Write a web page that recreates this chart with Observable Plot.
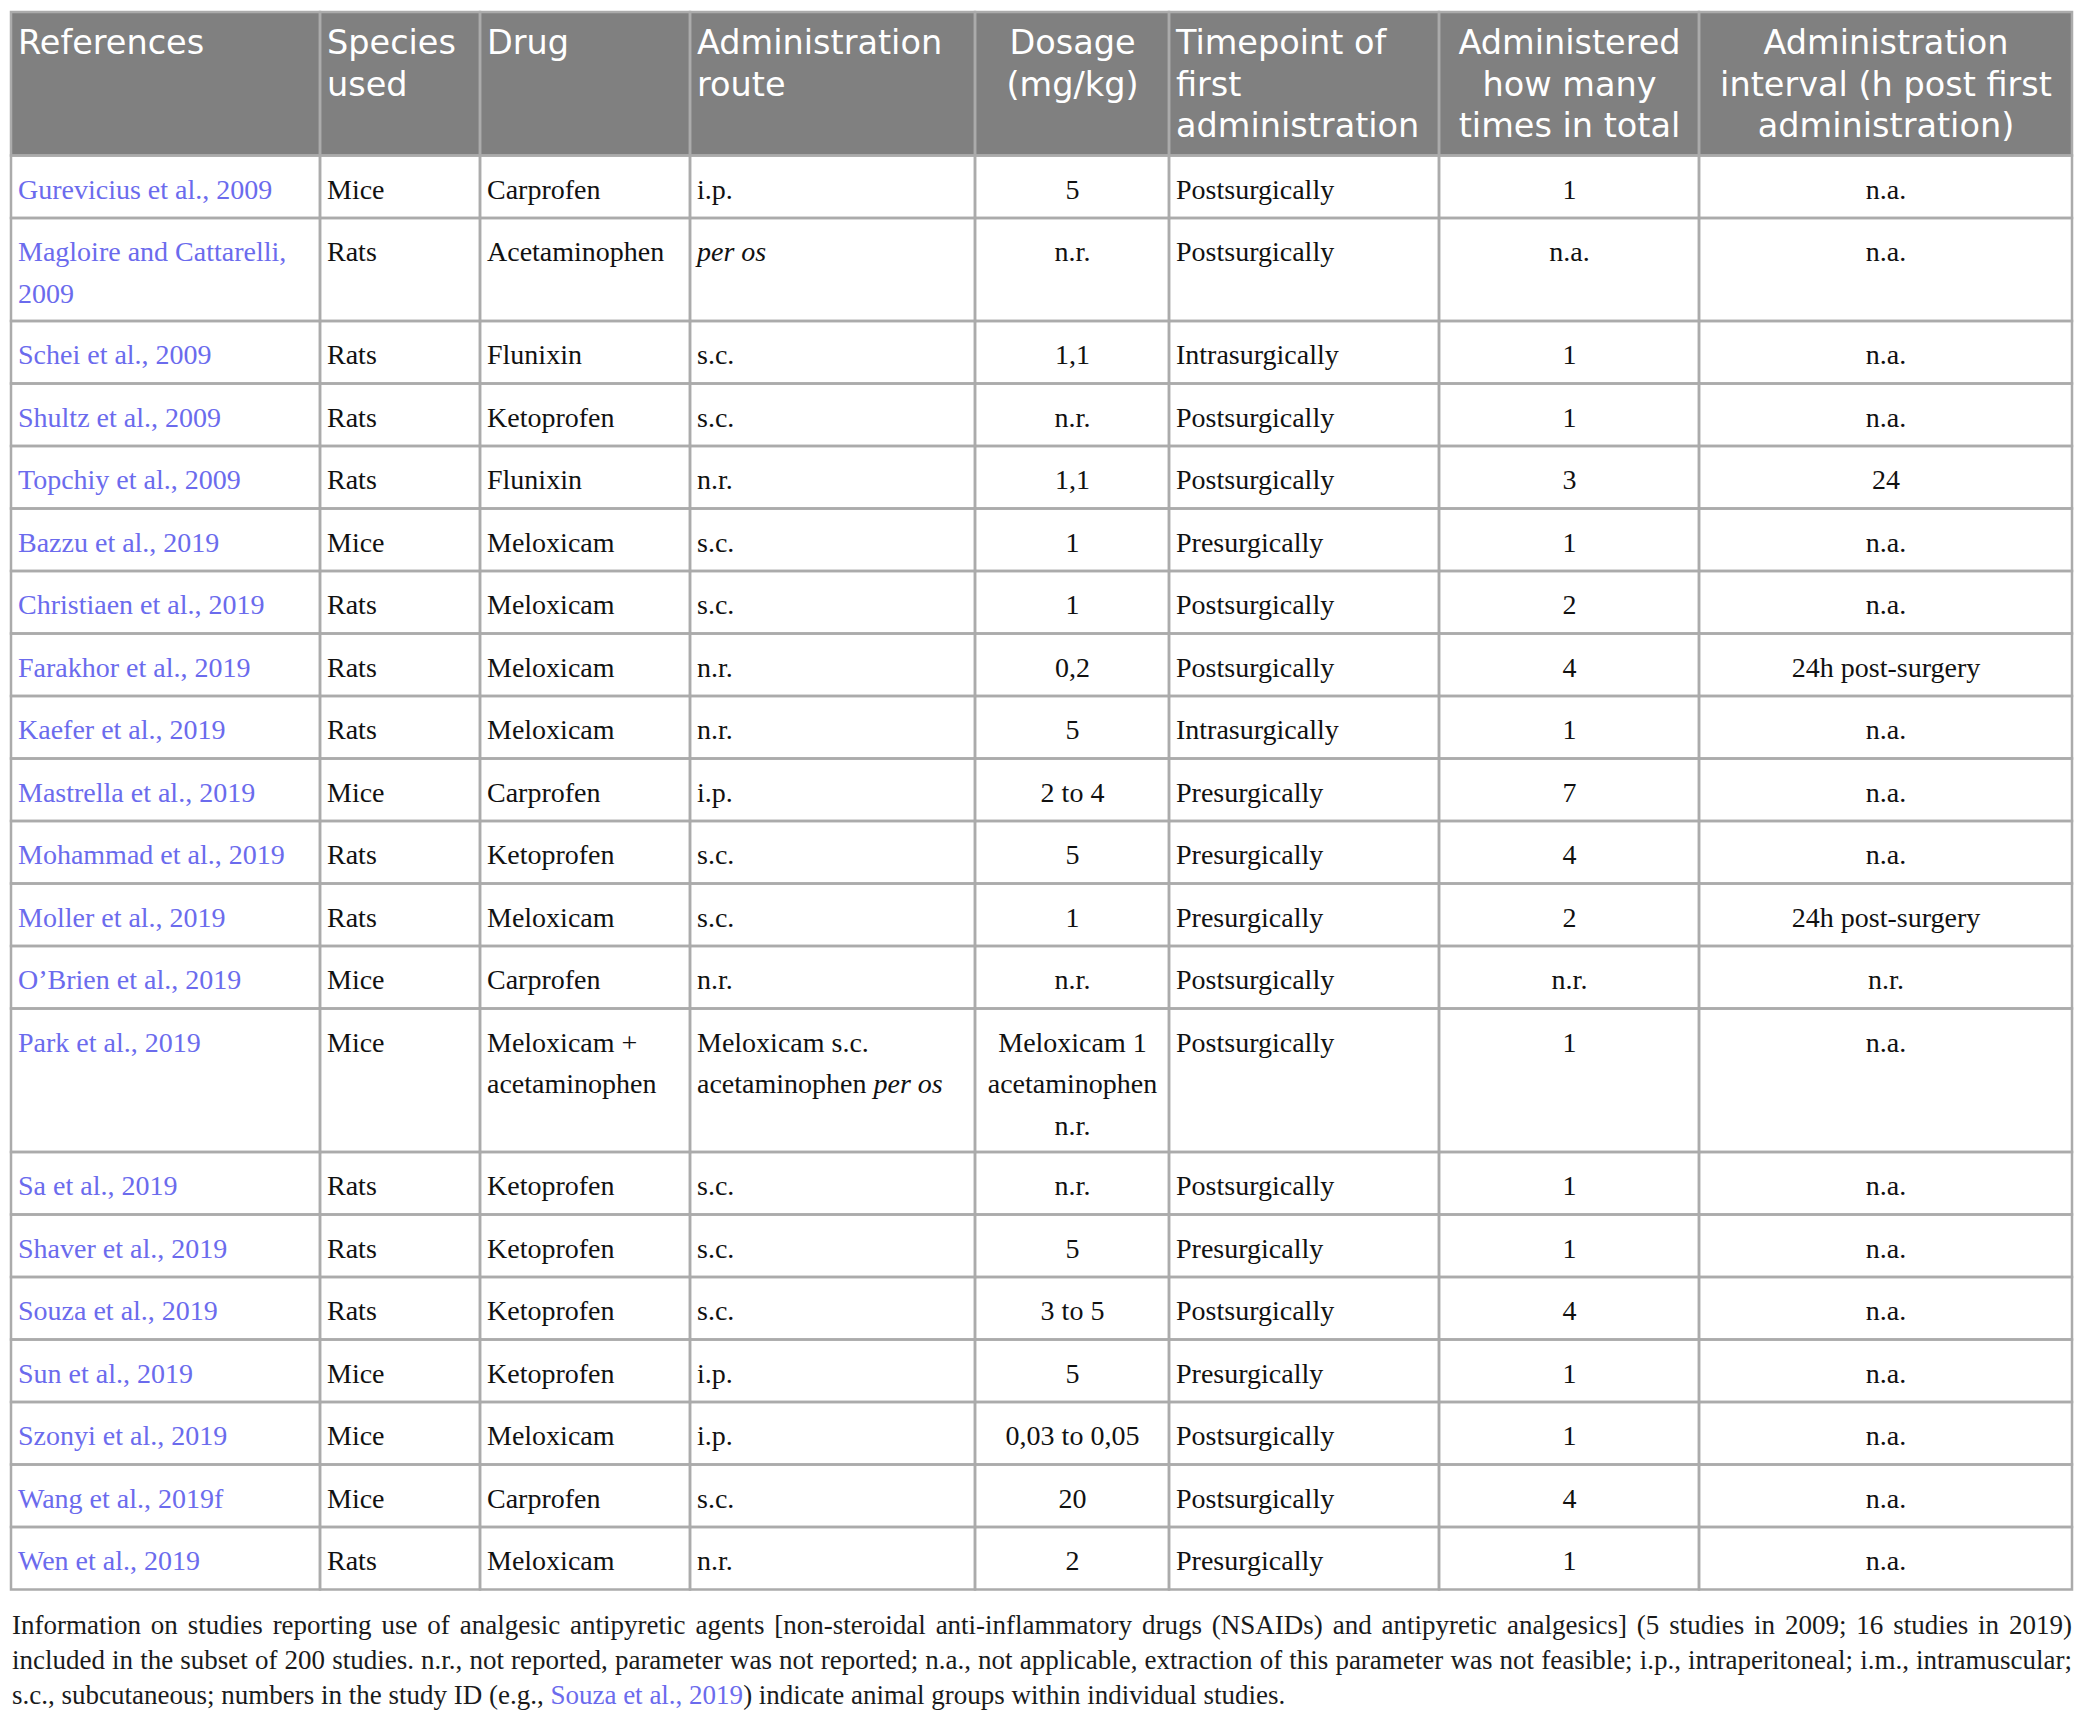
<!DOCTYPE html>
<html><head><meta charset="utf-8">
<script src="https://cdn.jsdelivr.net/npm/d3@7"></script>
<script src="https://cdn.jsdelivr.net/npm/@observablehq/plot@0.6"></script>
<style>
body{margin:0;background:#fff;}
#chart svg{display:block;}
#caption{margin:10px 0 0 12px; width:2060px; font-family:"Liberation Serif",serif; font-size:27px; line-height:35px; color:#1a1a1a;}
#caption div{white-space:nowrap;}
#caption span.line{display:inline-block;}
#caption .ref{color:#6b6bed;}
</style></head><body>
<div id="chart"></div>
<div id="caption"></div>
<script>
// ---------- data ----------
const headers = ["References","Species\nused","Drug","Administration\nroute","Dosage\n(mg/kg)","Timepoint of\nfirst\nadministration","Administered\nhow many\ntimes in total","Administration\ninterval (h post first\nadministration)"];
const references = ["Gurevicius et al., 2009","Magloire and Cattarelli,\n2009","Schei et al., 2009","Shultz et al., 2009","Topchiy et al., 2009","Bazzu et al., 2019","Christiaen et al., 2019","Farakhor et al., 2019","Kaefer et al., 2019","Mastrella et al., 2019","Mohammad et al., 2019","Moller et al., 2019","O\u2019Brien et al., 2019","Park et al., 2019","Sa et al., 2019","Shaver et al., 2019","Souza et al., 2019","Sun et al., 2019","Szonyi et al., 2019","Wang et al., 2019f","Wen et al., 2019"];
const species = ["Mice","Rats","Rats","Rats","Rats","Mice","Rats","Rats","Rats","Mice","Rats","Rats","Mice","Mice","Rats","Rats","Rats","Mice","Mice","Mice","Rats"];
const drugs = ["Carprofen","Acetaminophen","Flunixin","Ketoprofen","Flunixin","Meloxicam","Meloxicam","Meloxicam","Meloxicam","Carprofen","Ketoprofen","Meloxicam","Carprofen","Meloxicam +\nacetaminophen","Ketoprofen","Ketoprofen","Ketoprofen","Ketoprofen","Meloxicam","Carprofen","Meloxicam"];
const routes = ["i.p.","per os","s.c.","s.c.","n.r.","s.c.","s.c.","n.r.","n.r.","i.p.","s.c.","s.c.","n.r.","Meloxicam s.c.\nacetaminophen per os","s.c.","s.c.","s.c.","i.p.","i.p.","s.c.","n.r."];
const dosages = ["5","n.r.","1,1","n.r.","1,1","1","1","0,2","5","2 to 4","5","1","n.r.","Meloxicam 1\nacetaminophen\nn.r.","n.r.","5","3 to 5","5","0,03 to 0,05","20","2"];
const timepoints = ["Postsurgically","Postsurgically","Intrasurgically","Postsurgically","Postsurgically","Presurgically","Postsurgically","Postsurgically","Intrasurgically","Presurgically","Presurgically","Presurgically","Postsurgically","Postsurgically","Postsurgically","Presurgically","Postsurgically","Presurgically","Postsurgically","Postsurgically","Presurgically"];
const timesTotal = ["1","n.a.","1","1","3","1","2","4","1","7","4","2","n.r.","1","1","1","4","1","1","4","1"];
const intervals = ["n.a.","n.a.","n.a.","n.a.","24","n.a.","n.a.","24h post-surgery","n.a.","n.a.","n.a.","24h post-surgery","n.r.","n.a.","n.a.","n.a.","n.a.","n.a.","n.a.","n.a.","n.a."];
const italicPhrases = ["per os"];
const captionLines = [
  "Information on studies reporting use of analgesic antipyretic agents [non-steroidal anti-inflammatory drugs (NSAIDs) and antipyretic analgesics] (5 studies in 2009; 16 studies in 2019)",
  "included in the subset of 200 studies. n.r., not reported, parameter was not reported; n.a., not applicable, extraction of this parameter was not feasible; i.p., intraperitoneal; i.m., intramuscular;",
  "s.c., subcutaneous; numbers in the study ID (e.g., {Souza et al., 2019}) indicate animal groups within individual studies."
];

// ---------- layout ----------
const W = 2085, H = 1598;
const colEdges = [11, 320, 480, 690, 975, 1169, 1439, 1699, 2072];
const aligns = ["start","start","start","start","middle","start","middle","middle"];
const pad = 6.5;
const tableTop = 12, baseRowH = 62.5, extraLineH = 40.5;
const headerBase = 41.5, headerLineH = 41.5;
const bodyBase = 42.5, bodyLineH = 41.7;
const bodyFont = "Liberation Serif", headerFont = "DejaVu Sans";
const bodySize = 28, headerSize = 33.5;
const linkColor = "#6b6bed", textColor = "#111111", gridColor = "#ababab", headerFill = "#808080";
const captionWidth = 2060;

const columns = [references, species, drugs, routes, dosages, timepoints, timesTotal, intervals];
const nRows = references.length;

const ctx = document.createElement("canvas").getContext("2d");
function measure(t, italic) {
  ctx.font = `${italic ? "italic " : ""}${bodySize}px "${bodyFont}"`;
  return ctx.measureText(t).width;
}
function splitItalic(line) {
  const parts = [];
  let rest = line;
  while (rest.length) {
    let idx = -1, ph = null;
    for (const p of italicPhrases) { const k = rest.indexOf(p); if (k >= 0 && (idx < 0 || k < idx)) { idx = k; ph = p; } }
    if (idx < 0) { parts.push({t: rest, it: false}); break; }
    if (idx > 0) parts.push({t: rest.slice(0, idx), it: false});
    parts.push({t: ph, it: true});
    rest = rest.slice(idx + ph.length);
  }
  return parts;
}
const hasItalic = s => italicPhrases.some(p => s.includes(p));

// rows geometry
const headerLines = Math.max(...headers.map(h => h.split("\n").length));
const headerBottom = tableTop + baseRowH + (headerLines - 1) * extraLineH;
const rowTops = [], rowBottoms = [];
let yCur = headerBottom;
for (let r = 0; r < nRows; r++) {
  const n = Math.max(...columns.map(c => c[r].split("\n").length));
  rowTops.push(yCur);
  yCur += baseRowH + (n - 1) * extraLineH;
  rowBottoms.push(yCur);
}

const cells = [];
const texts = [];
const colX = c => aligns[c] === "middle" ? (colEdges[c] + colEdges[c+1]) / 2 : colEdges[c] + pad;
// header: one multi-line text per cell, last line's baseline at y
headers.forEach((h, c) => {
  cells.push({x1: colEdges[c], x2: colEdges[c+1], y1: tableTop, y2: headerBottom});
  const n = h.split("\n").length;
  texts.push({x: colX(c), y: tableTop + headerBase + (n - 1) * headerLineH, text: h, kind: "header", anchor: aligns[c], color: "#ffffff"});
});
for (let r = 0; r < nRows; r++) {
  columns.forEach((col, c) => {
    cells.push({x1: colEdges[c], x2: colEdges[c+1], y1: rowTops[r], y2: rowBottoms[r]});
    const color = c === 0 ? linkColor : textColor;
    const value = col[r];
    const lines = value.split("\n");
    if (!hasItalic(value)) {
      texts.push({x: colX(c), y: rowTops[r] + bodyBase + (lines.length - 1) * bodyLineH, text: value, kind: "body", anchor: aligns[c], color, italic: false});
      return;
    }
    lines.forEach((line, i) => {
      const y = rowTops[r] + bodyBase + i * bodyLineH;
      const parts = splitItalic(line);
      const total = d3.sum(parts, p => measure(p.t, p.it));
      let x = aligns[c] === "middle" ? (colEdges[c] + colEdges[c+1]) / 2 - total / 2 : colEdges[c] + pad;
      for (const p of parts) {
        texts.push({x, y, text: p.t, kind: "body", anchor: "start", color, italic: p.it});
        x += measure(p.t, p.it);
      }
    });
  });
}

function textMark(filter, opts) {
  return Plot.text(texts.filter(filter), {x: "x", y: "y", text: "text", fill: "color", lineAnchor: "bottom", ...opts});
}
const headerOpts = {fontFamily: headerFont, fontSize: headerSize, lineHeight: headerLineH / headerSize};
const bodyOpts = {fontFamily: bodyFont, fontSize: bodySize, lineHeight: bodyLineH / bodySize};

const chart = Plot.plot({
  width: W, height: H,
  margin: 0,
  x: {domain: [0, W], range: [0, W], axis: null},
  y: {domain: [0, H], range: [0, H], axis: null},
  color: {type: "identity"},
  style: {background: "#ffffff"},
  marks: [
    Plot.rect([{x1: colEdges[0], x2: colEdges[colEdges.length-1], y1: tableTop, y2: headerBottom}], {x1: "x1", x2: "x2", y1: "y1", y2: "y2", fill: headerFill}),
    Plot.rect(cells, {x1: "x1", x2: "x2", y1: "y1", y2: "y2", fill: "none", stroke: gridColor, strokeWidth: 2.5}),
    textMark(d => d.kind === "header" && d.anchor === "start", {textAnchor: "start", ...headerOpts}),
    textMark(d => d.kind === "header" && d.anchor === "middle", {textAnchor: "middle", ...headerOpts}),
    textMark(d => d.kind === "body" && d.anchor === "start" && !d.italic, {textAnchor: "start", ...bodyOpts}),
    textMark(d => d.kind === "body" && d.anchor === "start" && d.italic, {textAnchor: "start", fontStyle: "italic", ...bodyOpts}),
    textMark(d => d.kind === "body" && d.anchor === "middle", {textAnchor: "middle", ...bodyOpts})
  ]
});
document.getElementById("chart").appendChild(chart);

// caption: first lines justified to full width via word-spacing
const cap = document.getElementById("caption");
captionLines.forEach((line, i) => {
  const div = document.createElement("div");
  const span = document.createElement("span");
  span.className = "line";
  line.split(/(\{[^}]*\})/).forEach(seg => {
    if (!seg) return;
    if (seg.startsWith("{")) {
      const s = document.createElement("span"); s.className = "ref"; s.textContent = seg.slice(1, -1); span.appendChild(s);
    } else span.appendChild(document.createTextNode(seg));
  });
  div.appendChild(span);
  cap.appendChild(div);
  if (i < captionLines.length - 1) {
    const natural = span.getBoundingClientRect().width;
    const spaces = (line.match(/ /g) || []).length;
    span.style.wordSpacing = ((captionWidth - natural) / spaces) + "px";
  }
});
</script>
</body></html>
